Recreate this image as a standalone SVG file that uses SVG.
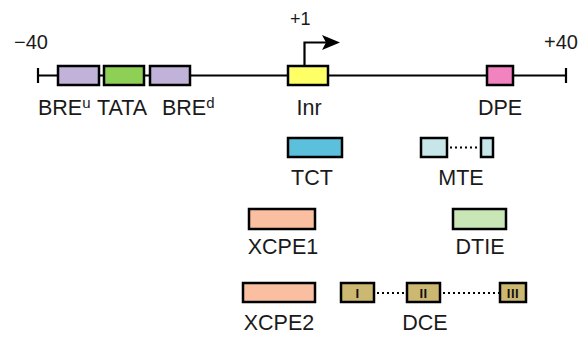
<svg xmlns="http://www.w3.org/2000/svg" width="586" height="341" viewBox="0 0 586 341">
<style>
text{font-family:"Liberation Sans",Arial,sans-serif;font-size:21.5px;fill:#1a1a1a}
.b{stroke:#000;stroke-width:2.5}
.c{text-anchor:middle}
.sup{font-size:15px}
.rn{font-size:13px;font-weight:bold;text-anchor:middle;letter-spacing:0.5px;fill:#111}
.dot{stroke:#000;stroke-width:2;stroke-dasharray:2 3;fill:none}
.ln{stroke:#000;stroke-width:2.2;fill:none}
</style>
<rect width="586" height="341" fill="#fff"/>
<g id="connectors">
<line class="ln" x1="38" y1="75.5" x2="566" y2="75.5"/>
<line class="ln" x1="38" y1="68" x2="38" y2="83"/>
<line class="ln" x1="566" y1="68" x2="566" y2="83"/>
<polyline class="ln" points="304.5,66 304.5,42.5 326,42.5"/>
<polygon points="322,35 340,42.5 322,50 326,42.5" fill="#000"/>
<line class="dot" x1="450" y1="147.5" x2="480" y2="147.5"/>
<line class="dot" x1="377" y1="293" x2="406" y2="293"/>
<line class="dot" x1="443" y1="293" x2="499" y2="293"/>
</g>
<g id="scale">
<text x="14" y="49" style="font-size:20px">−40</text>
<text x="544" y="49" style="font-size:20px">+40</text>
<text x="290" y="25" style="font-size:18px">+1</text>
</g>
<g id="BREu">
<rect class="b" x="58" y="66" width="41" height="19" fill="#C0B2D8"/>
<text x="38" y="115">BRE<tspan class="sup" dy="-7">u</tspan></text>
</g>
<g id="TATA">
<rect class="b" x="104" y="66" width="40" height="19" fill="#8ED055"/>
<text x="97" y="115" dy="0">TATA</text>
</g>
<g id="BREd">
<rect class="b" x="150" y="66" width="40" height="19" fill="#C0B2D8"/>
<text x="162" y="115">BRE<tspan class="sup" dy="-7">d</tspan></text>
</g>
<g id="Inr">
<rect class="b" x="288" y="66" width="40" height="19" fill="#FFFF66"/>
<text class="c" x="309" y="115">Inr</text>
</g>
<g id="DPE">
<rect class="b" x="487" y="66" width="26" height="19" fill="#F283C0"/>
<text class="c" x="500" y="115">DPE</text>
</g>
<g id="TCT">
<rect class="b" x="288" y="138" width="54" height="19" fill="#5BC0DB"/>
<text class="c" x="312" y="185">TCT</text>
</g>
<g id="MTE">
<rect class="b" x="421" y="138" width="26" height="19" fill="#C6E6EA"/>
<rect class="b" x="481" y="138" width="12" height="19" fill="#C6E6EA"/>
<text class="c" x="461" y="185">MTE</text>
</g>
<g id="XCPE1">
<rect class="b" x="249" y="209" width="66" height="20" fill="#F9BFA0"/>
<text class="c" x="283" y="254">XCPE1</text>
</g>
<g id="DTIE">
<rect class="b" x="453" y="209" width="53" height="20" fill="#C8E6B6"/>
<text class="c" x="480" y="254">DTIE</text>
</g>
<g id="XCPE2">
<rect class="b" x="243" y="283" width="72" height="19" fill="#F9BFA0"/>
<text class="c" x="279" y="330">XCPE2</text>
</g>
<g id="DCE">
<rect class="b" x="341" y="283" width="33" height="19" fill="#CDB872"/>
<rect class="b" x="407" y="283" width="33" height="19" fill="#CDB872"/>
<rect class="b" x="500" y="283" width="26" height="19" fill="#CDB872"/>
<text class="rn" x="357.5" y="297.5">I</text>
<text class="rn" x="423.5" y="297.5">II</text>
<text class="rn" x="513" y="297.5">III</text>
<text class="c" x="425" y="330">DCE</text>
</g>
</svg>
